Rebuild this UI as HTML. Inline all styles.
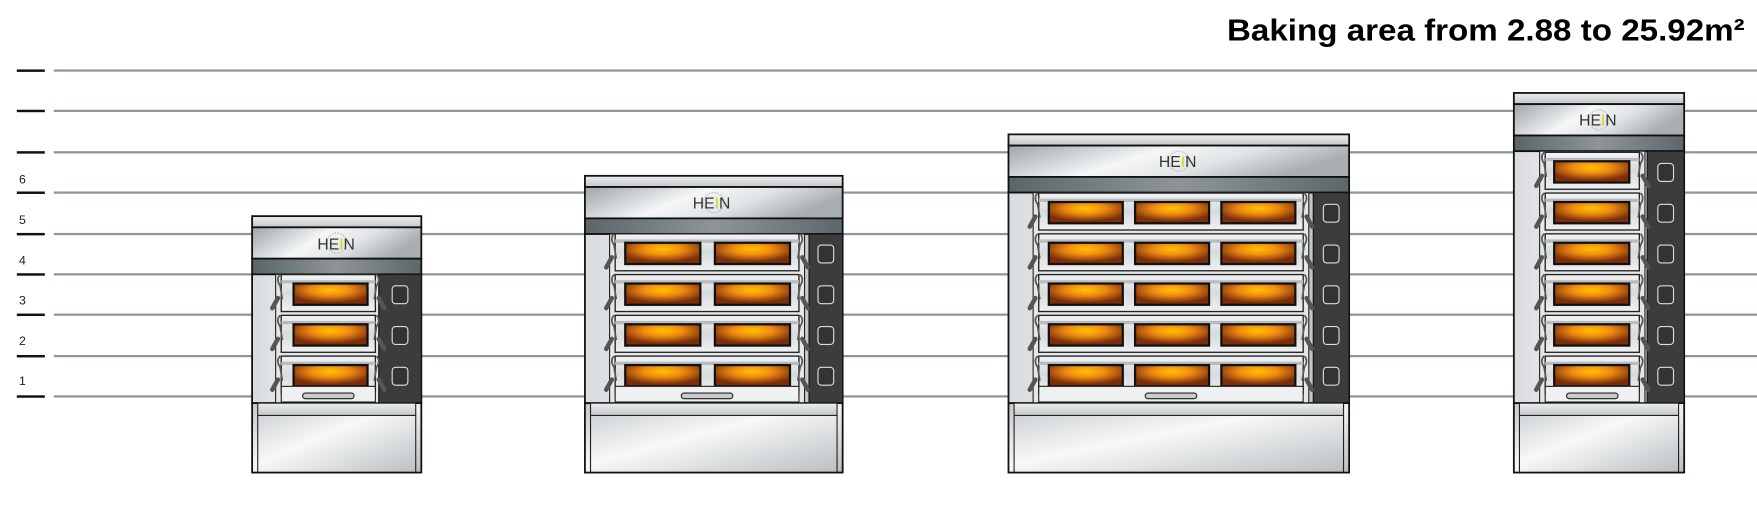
<!DOCTYPE html>
<html><head><meta charset="utf-8">
<style>
html,body{margin:0;padding:0;background:#fff;width:1757px;height:514px;overflow:hidden}
svg{display:block}
text{font-family:"Liberation Sans",sans-serif}
</style></head>
<body>
<svg id="s" width="1757" height="514" viewBox="0 0 1568 459" preserveAspectRatio="none" xmlns="http://www.w3.org/2000/svg">
<defs>
<linearGradient id="hood" x1="0" x2="1" y1="0" y2="0.3">
<stop offset="0" stop-color="#9ea4a8"/><stop offset="0.45" stop-color="#f4f6f7"/><stop offset="0.7" stop-color="#e2e5e7"/><stop offset="1" stop-color="#a9aeb2"/></linearGradient>
<linearGradient id="band" x1="0" x2="1"><stop offset="0" stop-color="#5b6569"/><stop offset="0.5" stop-color="#8d9598"/><stop offset="1" stop-color="#5d676b"/></linearGradient>
<linearGradient id="strip" x1="0" x2="0" y1="0" y2="1"><stop offset="0" stop-color="#eceeef"/><stop offset="1" stop-color="#c4c8ca"/></linearGradient>
<linearGradient id="col" x1="0" x2="1"><stop offset="0" stop-color="#d9dcde"/><stop offset="0.5" stop-color="#f3f4f5"/><stop offset="1" stop-color="#b3b8bb"/></linearGradient>
<linearGradient id="deck" x1="0" x2="0" y1="0" y2="1"><stop offset="0" stop-color="#f2f3f4"/><stop offset="0.5" stop-color="#d8dbdd"/><stop offset="1" stop-color="#eef0f1"/></linearGradient>
<linearGradient id="base" x1="0" x2="1" y1="0" y2="1"><stop offset="0" stop-color="#c5c9cc"/><stop offset="0.45" stop-color="#f7f8f8"/><stop offset="1" stop-color="#b9bec1"/></linearGradient>
<radialGradient id="win" cx="0.5" cy="0.3" r="0.6"><stop offset="0" stop-color="#ffc400"/><stop offset="0.45" stop-color="#f08a10"/><stop offset="1" stop-color="#7a2e0c"/></radialGradient>
</defs>
<g id="lines"></g>
<g id="ovens"></g>
<text x="1095" y="36" font-size="27" font-weight="bold" fill="#000" textLength="462" lengthAdjust="spacingAndGlyphs">Baking area from 2.88 to 25.92m²</text>
<g font-size="11" fill="#222">
<text x="17" y="164">6</text><text x="17" y="200">5</text><text x="17" y="236">4</text>
<text x="17" y="272">3</text><text x="17" y="308">2</text><text x="17" y="344">1</text>
</g>
<g font-size="14" fill="#333" text-anchor="middle">
<text x="300" y="223">HE<tspan fill="#d8d800">I</tspan>N</text>
<text x="635" y="186">HE<tspan fill="#d8d800">I</tspan>N</text>
<text x="1051" y="149">HE<tspan fill="#d8d800">I</tspan>N</text>
<text x="1426" y="112">HE<tspan fill="#d8d800">I</tspan>N</text>
</g>
</svg>
<script>
var NS="http://www.w3.org/2000/svg";
function el(p,t,a){var e=document.createElementNS(NS,t);for(var k in a)e.setAttribute(k,a[k]);p.appendChild(e);return e;}
var L=document.getElementById('lines');
[63,99,136,172,209,245,281,318,354].forEach(function(y){
 el(L,'rect',{x:48,y:y-1,width:1520,height:2,fill:'#8c9696'});
 el(L,'rect',{x:15,y:y-1,width:25,height:2.2,fill:'#111'});
});
var O=document.getElementById('ovens');
var ovens=[
 {x1:225,x2:376,top:193,dl:248,dr:338,cp:338,decks:3,wins:[[262,328]]},
 {x1:522,x2:752,top:157,dl:546,dr:716,cp:722,decks:4,wins:[[558,625],[638,705]]},
 {x1:900,x2:1204,top:120,dl:924,dr:1166,cp:1172,decks:5,wins:[[936,1002],[1013,1079],[1090,1156]]},
 {x1:1351,x2:1503,top:83,dl:1376,dr:1466,cp:1470,decks:6,wins:[[1387,1454]]}
];
ovens.forEach(function(o){
 var w=o.x2-o.x1,t=o.top;
 var g=el(O,'g',{});
 el(g,'rect',{x:o.x1,y:t,width:w,height:10,fill:'url(#strip)',stroke:'#111','stroke-width':1.6});
 el(g,'rect',{x:o.x1,y:t+10,width:w,height:28,fill:'url(#hood)',stroke:'#111','stroke-width':1.6});
 el(g,'rect',{x:o.x1,y:t+38,width:w,height:14,fill:'url(#band)',stroke:'#111','stroke-width':1.6});
 var cx=(o.x1+o.x2)/2;
 el(g,'circle',{cx:cx,cy:t+24,r:9,fill:'none',stroke:'#bbb','stroke-width':1,'stroke-dasharray':'1.5 1'});
 var bt=t+52;
 el(g,'rect',{x:o.x1,y:bt,width:w,height:360-bt,fill:'url(#col)',stroke:'#111','stroke-width':1.6});
 el(g,'rect',{x:o.dl-2,y:bt,width:o.dr-o.dl+4,height:360-bt,fill:'#e4e6e8',stroke:'#222','stroke-width':1});
 el(g,'rect',{x:o.cp,y:bt,width:o.x2-o.cp,height:360-bt,fill:'#3c3c3c',stroke:'#111','stroke-width':1});
 for(var i=0;i<o.decks;i++){
  var yc=336-36.4*i;
  el(g,'rect',{x:o.dl+3,y:yc-18,width:o.dr-o.dl-6,height:33,fill:'url(#deck)',stroke:'#222','stroke-width':1.2});
  el(g,'rect',{x:o.dl+3,y:yc-13,width:o.dr-o.dl-6,height:3,fill:'#b8bcbf'});
  o.wins.forEach(function(wn){
   el(g,'rect',{x:wn[0],y:yc-10,width:wn[1]-wn[0],height:19,fill:'url(#win)',stroke:'#111','stroke-width':2});
  });
  [[o.dl,-1],[o.dr,1]].forEach(function(h){
   var hx=h[0],d=h[1];
   el(g,'path',{d:'M'+(hx-d*2)+' '+(yc-18)+' q'+(d*4)+' 4 0 10 l'+(-d*2)+' 12',fill:'none',stroke:'#555','stroke-width':1.5});
   el(g,'line',{x1:hx,y1:yc+3,x2:hx+d*5,y2:yc+12,stroke:'#555','stroke-width':4,'stroke-linecap':'round'});
  });
  var sq=o.cp+(o.x2-o.cp)/2;
  el(g,'rect',{x:sq-7,y:yc-8,width:14,height:16,rx:3,fill:'#333',stroke:'#ddd','stroke-width':1});
 }
 el(g,'rect',{x:o.dl+3,y:345,width:o.dr-o.dl-6,height:14,fill:'#eef0f1',stroke:'#222','stroke-width':1});
 el(g,'rect',{x:(o.dl+o.dr)/2-23,y:351,width:46,height:5,rx:2.5,fill:'#ccc',stroke:'#222','stroke-width':1});
 el(g,'rect',{x:o.x1,y:360,width:w,height:62,fill:'url(#base)',stroke:'#111','stroke-width':1.6});
 el(g,'rect',{x:o.x1+5,y:360,width:w-10,height:11,fill:'url(#strip)',stroke:'#222','stroke-width':1});
 el(g,'line',{x1:o.x1+5,y1:371,x2:o.x1+5,y2:422,stroke:'#222','stroke-width':1});
 el(g,'line',{x1:o.x2-5,y1:371,x2:o.x2-5,y2:422,stroke:'#222','stroke-width':1});
});
</script>
</body></html>
